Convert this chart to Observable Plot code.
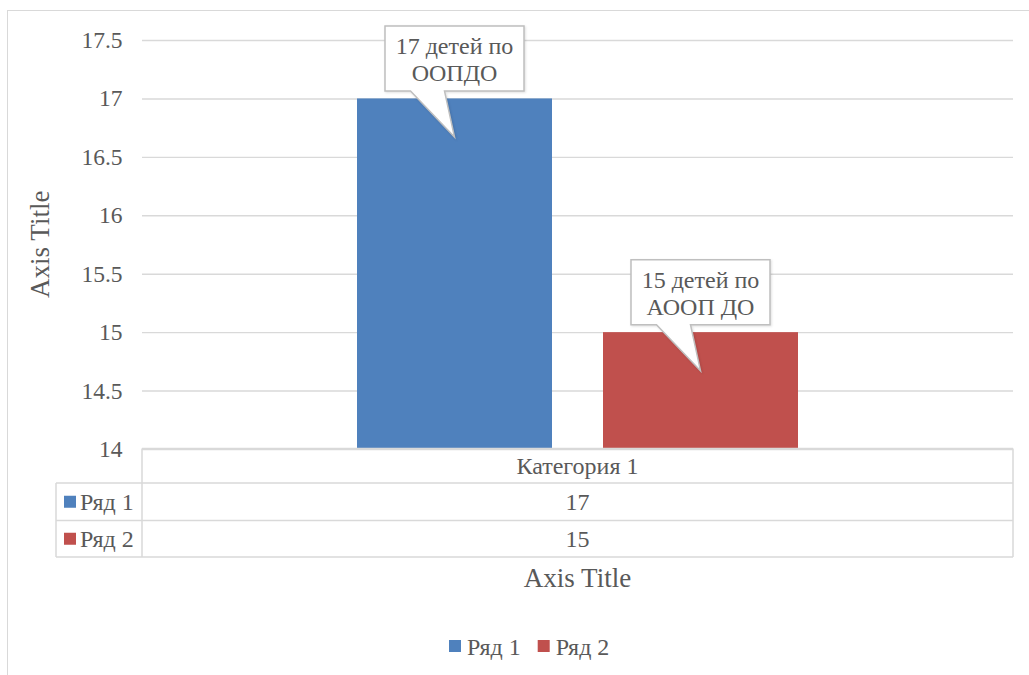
<!DOCTYPE html>
<html><head><meta charset="utf-8">
<script src="https://cdn.jsdelivr.net/npm/d3@7"></script>
<script src="https://cdn.jsdelivr.net/npm/@observablehq/plot@0.6"></script>
<style>
body{margin:0;background:#fff;}
#wrap{position:relative;width:1029px;height:675px;overflow:hidden;font-family:'Liberation Serif',serif;}
#frame{position:absolute;left:7px;top:10px;width:1100px;height:800px;border:1.5px solid #d9d9d9;box-sizing:border-box;}
#wrap svg{position:absolute;left:0;top:0;}
</style></head><body><div id="wrap"><div id="frame"></div></div>
<script>
const category = "Категория 1";
const series = ["Ряд 1", "Ряд 2"];
const values = [17, 15];
const colors = ["#4f81bd", "#c0504d"];
const calloutLabels = [["17 детей по", "ООПДО"], ["15 детей по", "АООП ДО"]];
const yTicks = [14, 14.5, 15, 15.5, 16, 16.5, 17, 17.5];
const xAxisTitle = "Axis Title";
const yAxisTitle = "Axis Title";
const yMin = 14, yMax = 17.5;

const data = series.map((s, i) => ({series: s, value: values[i], label: calloutLabels[i], color: colors[i]}));
const FONT = "Liberation Serif";
const FSTYLE = "font-family:'Liberation Serif',serif";
const TXT = "#595959";
const LINE = "#d9d9d9";
const FS = 24;

function bw(x) { return typeof x.bandwidth === "function" ? x.bandwidth() : x.bandwidth; }
function txt(g, x, y, s, anchor, size) {
  return g.append("text").attr("x", x).attr("y", y).attr("text-anchor", anchor)
    .attr("font-family", FONT).attr("font-size", size || FS).attr("fill", TXT)
    .attr("style", FSTYLE).text(s);
}

function callouts(index, scales, vals, dims) {
  const g = d3.create("svg:g");
  const w = 139, h = 65;
  for (const d of data) {
    const cx = scales.x(d.series) + bw(scales.x) / 2;
    const top = scales.y(d.value);
    const bottom = top - 7.5, tp = bottom - h;
    const tipY = scales.y(d.value - 0.33);
    const L = cx - w / 2, R = cx + w / 2;
    g.append("path")
      .attr("d", `M${L},${tp}H${R}V${bottom}H${cx - 10}L${cx},${tipY}L${cx - 44},${bottom}H${L}Z`)
      .attr("fill", "#fff").attr("stroke", "#bfbfbf").attr("stroke-width", 1.5)
      .attr("style", "filter: drop-shadow(1px 1px 1px rgba(0,0,0,0.12))");
    d.label.forEach((t, i) => txt(g, cx, tp + 28 + i * 27.5, t, "middle"));
  }
  return g.node();
}

function dataTable(index, scales, vals, dims) {
  const g = d3.create("svg:g");
  const L = dims.marginLeft, R = dims.width - dims.marginRight;
  const T = dims.height - dims.marginBottom - 0.5;
  const r1 = T + 34.5, r2 = r1 + 37.5, r3 = r2 + 36.5;
  const C0 = 56;
  const ln = (x1, y1, x2, y2) => g.append("line").attr("x1", x1).attr("y1", y1).attr("x2", x2).attr("y2", y2)
    .attr("stroke", LINE).attr("stroke-width", 1.5);
  ln(L, T, R, T); ln(C0, r1, R, r1); ln(C0, r2, R, r2); ln(C0, r3, R, r3);
  ln(C0, r1, C0, r3); ln(L, T, L, r3); ln(R, T, R, r3);
  const mid = (L + R) / 2;
  txt(g, mid, (T + r1) / 2 + 8, category, "middle");
  const rows = [[r1, r2], [r2, r3]];
  data.forEach((d, i) => {
    const cy = (rows[i][0] + rows[i][1]) / 2;
    g.append("rect").attr("x", 64).attr("y", cy - 6).attr("width", 12).attr("height", 12).attr("fill", d.color);
    txt(g, 80, cy + 8, d.series, "start");
    txt(g, mid, cy + 8, String(d.value), "middle");
  });
  txt(g, mid, 587, xAxisTitle, "middle", 27);
  txt(g, 0, 0, yAxisTitle, "middle", 27)
    .attr("transform", `translate(49,${(dims.marginTop + T) / 2}) rotate(-90)`);
  let lx = mid - 128.5;
  data.forEach((d, i) => {
    g.append("rect").attr("x", lx).attr("y", 640).attr("width", 12).attr("height", 12).attr("fill", d.color);
    txt(g, lx + 18, 654.5, d.series, "start");
    lx += 88.7;
  });
  return g.node();
}

const chart = Plot.plot({
  width: 1029, height: 675,
  marginLeft: 142, marginRight: 16, marginTop: 40, marginBottom: 226,
  style: {fontFamily: "'Liberation Serif', serif", fontSize: FS + "px", color: TXT, background: "transparent", overflow: "visible"},
  x: {domain: series, paddingInner: 0.2085, paddingOuter: 0.87, axis: null},
  y: {domain: [yMin, yMax], axis: null},
  color: {domain: series, range: colors},
  marks: [
    Plot.gridY(yTicks, {stroke: LINE, strokeOpacity: 1, strokeWidth: 1.4}),
    Plot.axisY(yTicks, {tickSize: 0, tickPadding: 20, tickFormat: d => String(d), label: null, fontSize: 23.5, fontFamily: FONT}),
    Plot.barY(data, {x: "series", y1: yMin, y2: "value", fill: "series"}),
    dataTable,
    callouts
  ]
});
chart.setAttribute("font-family", FONT);
document.getElementById("wrap").appendChild(chart);
</script>
</body></html>
